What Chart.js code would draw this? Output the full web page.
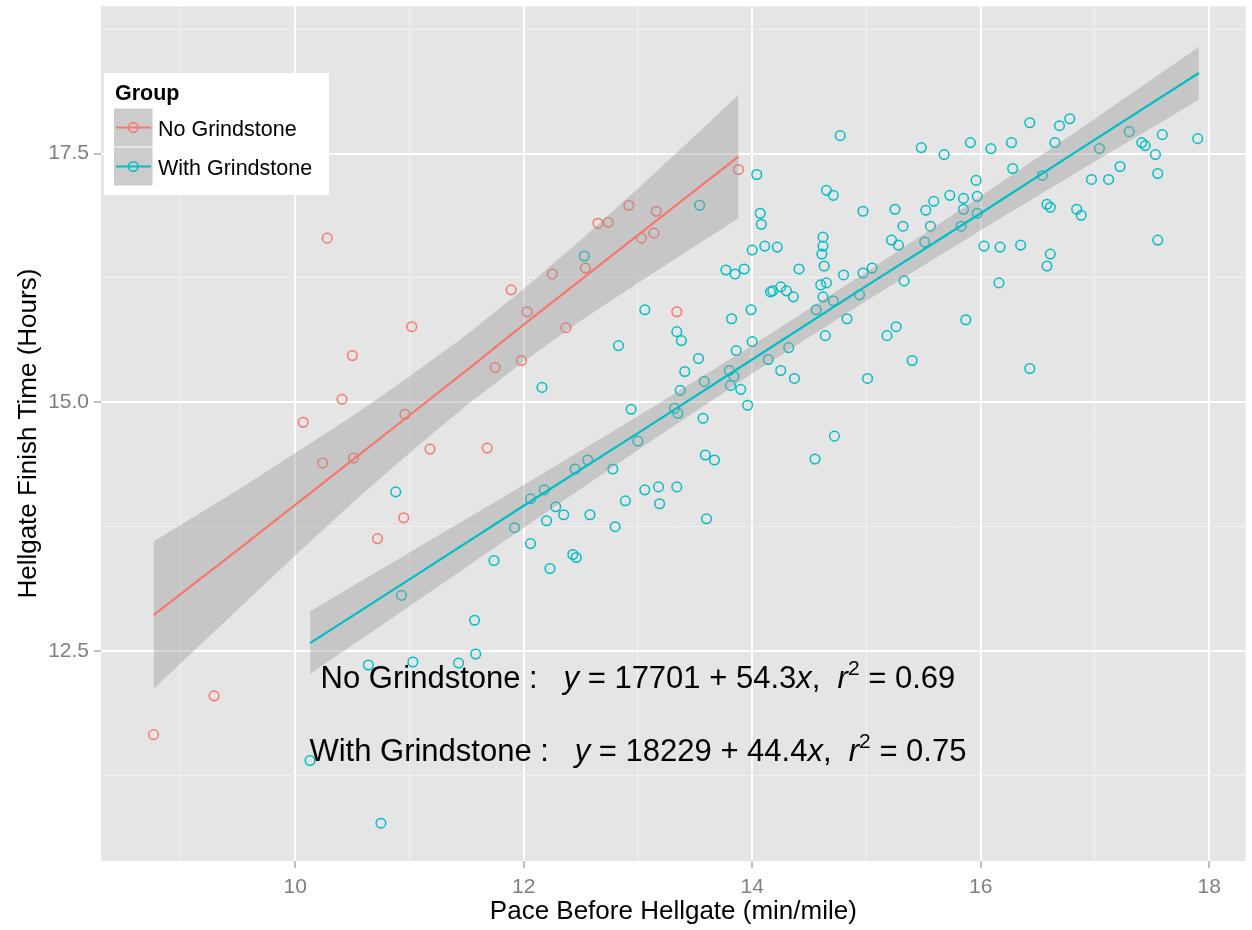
<!DOCTYPE html>
<html>
<head>
<meta charset="utf-8">
<script src="https://cdn.jsdelivr.net/npm/chart.js@4.4.1/dist/chart.umd.min.js"></script>
<style>
  html, body { margin: 0; padding: 0; background: #fff; }
  #wrap { width: 1252px; height: 930px; }
</style>
</head>
<body>
<div id="wrap"><canvas id="hellgate" width="1252" height="930"></canvas></div>
<script>
// pace before Hellgate (min/mile) vs finish time (hours)
const noX = [8.76, 9.29, 10.07, 10.24, 10.28, 10.41, 10.50, 10.51, 10.72, 10.95, 10.96, 11.02, 11.18, 11.68, 11.75,
  11.89, 11.98, 12.03, 12.25, 12.37, 12.54, 12.65, 12.74, 12.92, 13.03, 13.14, 13.16, 13.34, 13.88];
const noY = [11.66, 12.05, 14.80, 14.39, 16.65, 15.03, 15.47, 14.44, 13.63, 13.84, 14.88, 15.76, 14.53, 14.54, 15.35,
  16.13, 15.42, 15.91, 16.29, 15.75, 16.35, 16.80, 16.81, 16.98, 16.65, 16.70, 16.92, 15.91, 17.34];

const withX = [10.88, 11.74, 10.93, 11.57, 11.58, 10.64, 11.03, 11.43, 10.13, 10.75,
  14.04, 13.54, 14.65, 14.71, 14.07, 14.08, 12.53, 14.00, 14.11, 14.22,
  14.62, 14.62, 14.61, 14.63, 13.77, 13.85, 13.93, 14.41, 14.16, 14.18,
  14.25, 14.30, 14.36, 14.60, 14.65, 14.62, 14.71, 14.56, 14.64, 13.99,
  13.82, 13.06, 13.34, 13.38, 12.83, 14.00, 13.86, 14.32, 13.53, 14.14,
  13.41, 13.80, 13.84, 14.25, 14.37, 13.58, 12.16, 13.37, 13.81, 13.90,
  13.96, 12.94, 13.32, 13.35, 13.57, 14.72, 13.00, 12.56, 13.59, 13.67,
  14.55, 12.78, 12.45, 12.18, 12.06, 13.06, 13.18, 13.34, 12.89, 13.19,
  13.60, 12.28, 12.35, 12.20, 12.58, 11.92, 12.80, 12.06, 12.43, 12.46,
  12.23, 14.77, 15.48, 15.68, 15.91, 16.09, 16.27, 16.43, 16.69, 16.78,
  16.65, 17.30, 17.59, 17.41, 17.44, 17.90, 17.53, 17.04, 16.28, 16.54,
  17.22, 16.97, 17.12, 17.55, 15.96, 14.97, 15.25, 15.52, 15.59, 15.73,
  15.85, 15.97, 15.85, 15.97, 15.83, 15.32, 15.56, 15.22, 15.28, 15.51,
  16.58, 16.61, 16.84, 16.88, 16.03, 16.17, 16.35, 16.61, 16.58, 17.55,
  14.80, 14.97, 15.05, 15.33, 16.16, 14.94, 14.83, 15.18, 15.26, 15.87,
  15.40, 16.43, 15.01];
const withY = [14.10, 13.41, 13.06, 12.81, 12.47, 12.36, 12.39, 12.38, 11.40, 10.77,
  17.29, 16.98, 17.13, 17.08, 16.90, 16.79, 16.47, 16.53, 16.57, 16.56,
  16.66, 16.57, 16.49, 16.37, 16.33, 16.29, 16.34, 16.34, 16.11, 16.12,
  16.16, 16.12, 16.06, 16.18, 16.20, 16.06, 16.02, 15.93, 15.67, 15.93,
  15.84, 15.93, 15.71, 15.62, 15.57, 15.61, 15.52, 15.55, 15.44, 15.43,
  15.31, 15.32, 15.26, 15.32, 15.24, 15.21, 15.15, 15.12, 15.17, 15.13,
  14.97, 14.93, 14.94, 14.89, 14.84, 14.66, 14.61, 14.42, 14.47, 14.42,
  14.43, 14.33, 14.33, 14.12, 14.03, 14.12, 14.15, 14.15, 14.01, 13.98,
  13.83, 13.95, 13.87, 13.81, 13.87, 13.74, 13.75, 13.58, 13.47, 13.44,
  13.33, 17.68, 17.56, 17.49, 17.61, 17.55, 17.61, 17.81, 17.78, 17.85,
  17.61, 17.72, 17.69, 17.61, 17.58, 17.65, 17.49, 17.55, 17.35, 17.28,
  17.37, 17.24, 17.24, 17.30, 17.23, 16.92, 16.94, 16.93, 17.02, 17.08,
  17.05, 17.07, 16.94, 16.90, 16.77, 16.77, 16.77, 16.63, 16.58, 16.61,
  16.99, 16.96, 16.94, 16.88, 16.57, 16.56, 16.58, 16.49, 16.37, 16.63,
  16.28, 16.30, 16.35, 16.22, 16.20, 16.08, 15.84, 15.67, 15.76, 15.83,
  15.42, 15.34, 15.24];

// fitted lines and their confidence bands
const noFitX = [8.76, 9.5, 10, 10.5, 11, 11.5, 12, 12.5, 13, 13.5, 13.88];
const noFitY = [12.86, 13.52, 13.97, 14.42, 14.87, 15.32, 15.78, 16.23, 16.68, 17.13, 17.47];
const noUpper = [13.60, 14.12, 14.49, 14.86, 15.26, 15.68, 16.14, 16.63, 17.15, 17.68, 18.09];
const noLower = [12.12, 12.92, 13.46, 13.99, 14.49, 14.97, 15.41, 15.82, 16.20, 16.57, 16.85];

const withFitX = [10.13, 11, 12, 13, 14, 15, 16, 17, 17.91];
const withFitY = [12.58, 13.22, 13.96, 14.69, 15.43, 16.17, 16.90, 17.64, 18.31];
const withUpper = [12.90, 13.49, 14.17, 14.86, 15.57, 16.31, 17.07, 17.85, 18.57];
const withLower = [12.27, 12.95, 13.74, 14.52, 15.29, 16.02, 16.73, 17.42, 18.04];

const groups = ['No Grindstone', 'With Grindstone'];
const xMajor = [10, 12, 14, 16, 18];
const xMinor = [9, 11, 13, 15, 17];
const yMajor = [12.5, 15, 17.5];
const yMinor = [11.25, 13.75, 16.25, 18.75];

const RED = '#F8766D';
const CYAN = '#00BFC4';
const BAND = 'rgba(153,153,153,0.4)';
const FONT = '"Liberation Sans", Arial, Helvetica, sans-serif';

Chart.defaults.font.family = FONT;

const pts = (xs, ys) => xs.map((x, i) => ({ x: x, y: ys[i] }));

function pointSet(label, xs, ys, color) {
  return {
    label: label, data: pts(xs, ys), showLine: false, order: 3,
    pointRadius: 4.8, pointBorderWidth: 1.5, pointBorderColor: color,
    pointBackgroundColor: 'rgba(0,0,0,0)', pointHoverRadius: 4.8
  };
}
function bandEdge(xs, ys, fill) {
  return {
    data: pts(xs, ys), fill: fill, backgroundColor: BAND, borderWidth: 0,
    borderColor: 'rgba(0,0,0,0)', pointRadius: 0, order: 2, tension: 0
  };
}
function fitLine(xs, ys, color) {
  return {
    data: pts(xs, ys), borderColor: color, borderWidth: 2.2, pointRadius: 0,
    fill: false, order: 1, tension: 0
  };
}

// panel background, legend and the equation text
const ggPanel = {
  id: 'ggPanel',
  beforeDraw(chart) {
    const { ctx, chartArea: a } = chart;
    ctx.save();
    ctx.fillStyle = '#E5E5E5';
    ctx.fillRect(a.left, a.top, a.right - a.left, a.bottom - a.top);
    ctx.restore();
  },
  afterDraw(chart) {
    const ctx = chart.ctx;
    ctx.save();
    // legend
    ctx.fillStyle = '#fff';
    ctx.fillRect(104, 73, 225, 122);
    ctx.fillStyle = '#000';
    ctx.textBaseline = 'alphabetic';
    ctx.font = 'bold 21.5px ' + FONT;
    ctx.fillText('Group', 115, 99.5);
    [RED, CYAN].forEach((c, i) => {
      const top = 108.5 + i * 39;
      ctx.fillStyle = '#CCCCCC';
      ctx.fillRect(114, top, 38.5, 38);
      const cy = top + 19;
      ctx.strokeStyle = c;
      ctx.lineWidth = 2.2;
      ctx.beginPath(); ctx.moveTo(116, cy); ctx.lineTo(151, cy); ctx.stroke();
      ctx.lineWidth = 1.5;
      ctx.beginPath(); ctx.arc(133.3, cy, 4.8, 0, Math.PI * 2); ctx.stroke();
      ctx.fillStyle = '#000';
      ctx.font = '21.5px ' + FONT;
      ctx.fillText(groups[i], 158, cy + 8);
    });
    // regression equations
    const xs = chart.scales.x, ys = chart.scales.y;
    const lines = [
      { y: 12.24, parts: [['No Grindstone :   ', 'n'], ['y', 'i'], [' = 17701 + 54.3', 'n'], ['x', 'i'],
        [',  ', 'n'], ['r', 'i'], ['2', 's'], [' = 0.69', 'n']] },
      { y: 11.51, parts: [['With Grindstone :   ', 'n'], ['y', 'i'], [' = 18229 + 44.4', 'n'], ['x', 'i'],
        [',  ', 'n'], ['r', 'i'], ['2', 's'], [' = 0.75', 'n']] }
    ];
    const fontOf = s => s === 'i' ? 'italic 31px ' + FONT : s === 's' ? '21px ' + FONT : '31px ' + FONT;
    ctx.fillStyle = '#000';
    lines.forEach(l => {
      let w = 0;
      l.parts.forEach(p => { ctx.font = fontOf(p[1]); p.w = ctx.measureText(p[0]).width; w += p.w; });
      let x = xs.getPixelForValue(13) - w / 2;
      const base = ys.getPixelForValue(l.y) + 11;
      l.parts.forEach(p => {
        ctx.font = fontOf(p[1]);
        ctx.fillText(p[0], x, p[1] === 's' ? base - 13 : base);
        x += p.w;
      });
    });
    ctx.restore();
  }
};

new Chart(document.getElementById('hellgate'), {
  type: 'line',
  data: {
    datasets: [
      pointSet(groups[0], noX, noY, RED),
      pointSet(groups[1], withX, withY, CYAN),
      bandEdge(noFitX, noUpper, '+1'),
      bandEdge(noFitX, noLower, false),
      bandEdge(withFitX, withUpper, '+1'),
      bandEdge(withFitX, withLower, false),
      fitLine(noFitX, noFitY, RED),
      fitLine(withFitX, withFitY, CYAN)
    ]
  },
  options: {
    responsive: false,
    animation: false,
    events: [],
    layout: { padding: { top: 5, right: 4, left: 0, bottom: 0 } },
    plugins: { legend: { display: false }, tooltip: { enabled: false } },
    scales: {
      x: {
        type: 'linear', min: 8.30, max: 18.32,
        afterBuildTicks: s => { s.ticks = xMinor.concat(xMajor).sort((a, b) => a - b).map(v => ({ value: v })); },
        afterFit: s => { s.height = 69; s.paddingLeft = 0; s.paddingRight = 0; },
        border: { display: false },
        grid: {
          color: c => xMajor.includes(c.tick.value) ? '#FFFFFF' : '#F2F2F2',
          lineWidth: c => xMajor.includes(c.tick.value) ? 2 : 1,
          tickColor: c => xMajor.includes(c.tick.value) ? '#7F7F7F' : 'rgba(0,0,0,0)',
          tickWidth: 1, tickLength: 7
        },
        ticks: {
          autoSkip: false, maxRotation: 0, padding: 7, color: '#7F7F7F', font: { size: 21 },
          callback: v => xMajor.includes(v) ? String(v) : ''
        },
        title: { display: true, text: 'Pace Before Hellgate (min/mile)', color: '#000', font: { size: 26 }, padding: { top: 0, bottom: 3 } }
      },
      y: {
        type: 'linear', min: 10.39, max: 18.98,
        afterBuildTicks: s => { s.ticks = yMinor.concat(yMajor).sort((a, b) => a - b).map(v => ({ value: v })); },
        afterFit: s => { s.width = 101; s.paddingTop = 0; s.paddingBottom = 0; },
        border: { display: false },
        grid: {
          color: c => yMajor.includes(c.tick.value) ? '#FFFFFF' : '#F2F2F2',
          lineWidth: c => yMajor.includes(c.tick.value) ? 2 : 1,
          tickColor: c => yMajor.includes(c.tick.value) ? '#7F7F7F' : 'rgba(0,0,0,0)',
          tickWidth: 1, tickLength: 7
        },
        ticks: {
          autoSkip: false, padding: 5, color: '#7F7F7F', font: { size: 21 },
          callback: v => yMajor.includes(v) ? v.toFixed(1) : ''
        },
        title: { display: true, text: 'Hellgate Finish Time (Hours)', color: '#000', font: { size: 26 }, padding: { top: 13, bottom: 0 } }
      }
    }
  },
  plugins: [ggPanel]
});
</script>
</body>
</html>
